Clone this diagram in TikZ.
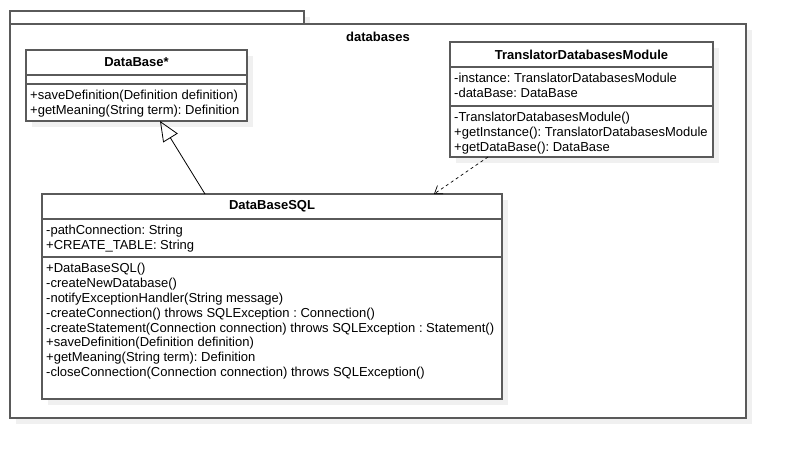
\documentclass[tikz,border=0pt]{standalone}
\usepackage{fontspec}
\setmainfont{Liberation Sans}
\usetikzlibrary{arrows.meta,shadows}
\frenchspacing
\definecolor{umlline}{HTML}{5A5A5A}
\definecolor{umlshade}{HTML}{F0F0F0}
\tikzset{
  umlbox/.style={rectangle, draw=umlline, line width=1.3pt, fill=white, anchor=north west,
    inner sep=0pt, outer sep=0pt,
    drop shadow={shadow xshift=6pt, shadow yshift=-6pt, fill=umlshade, opacity=1}},
  umltitle/.style={umlbox, minimum height=25pt, font=\fontsize{13}{14.85}\selectfont\bfseries},
  members/.style={anchor=north west, align=left, inner xsep=4pt, inner ysep=6pt,
    font=\fontsize{13}{14.85}\selectfont},
  inherit/.style={-{Triangle[open, length=20pt, width=17pt]}, line width=0.8pt},
  depend/.style={-{Straight Barb[length=7pt, width=10pt]}, line width=0.7pt, dash pattern=on 3pt off 3pt}
}
\begin{document}
\begin{tikzpicture}[x=1pt, y=-1pt]
  \useasboundingbox (0,0) rectangle (786,458);
  % package
  \node[umlbox, minimum width=294pt, minimum height=13pt] (pkgtab) at (10,11) {};
  \node[umlbox, minimum width=736pt, minimum height=394pt] (pkg) at (10,24) {};
  \node[font=\fontsize{13}{14.85}\selectfont\bfseries] (pkgname) at (378,37) {databases};
  % DataBase
  \node[umltitle, minimum width=221pt] (dbtitle) at (26,50) {DataBase*};
  \node[umlbox, minimum width=221pt, minimum height=9pt] (dbattr) at (dbtitle.south west) {};
  \node[umlbox, minimum width=221pt, minimum height=37pt] (dbops) at (dbattr.south west) {};
  \node[members] (dbopstext) at (dbops.north west) {+saveDefinition(Definition definition)\\
    +getMeaning(String term): Definition};
  % TranslatorDatabasesModule
  \node[umltitle, minimum width=263pt] (tdmtitle) at (450,42) {TranslatorDatabasesModule};
  \node[umlbox, minimum width=263pt, minimum height=39pt] (tdmattr) at (tdmtitle.south west) {};
  \node[members] (tdmattrtext) at (tdmattr.north west) {-instance: TranslatorDatabasesModule\\
    -dataBase: DataBase};
  \node[umlbox, minimum width=263pt, minimum height=51pt] (tdmops) at (tdmattr.south west) {};
  \node[members] (tdmopstext) at (tdmops.north west) {-TranslatorDatabasesModule()\\
    +getInstance(): TranslatorDatabasesModule\\
    +getDataBase(): DataBase};
  % DataBaseSQL
  \node[umltitle, minimum width=460pt] (sqltitle) at (42,194) {DataBaseSQL};
  \node[umlbox, minimum width=460pt, minimum height=38pt] (sqlattr) at (sqltitle.south west) {};
  \node[members] (sqlattrtext) at (sqlattr.north west) {-pathConnection: String\\
    +CREATE\_TABLE: String};
  \node[umlbox, minimum width=460pt, minimum height=142pt] (sqlops) at (sqlattr.south west) {};
  \node[members] (sqlopstext) at (sqlops.north west) {+DataBaseSQL()\\
    -createNewDatabase()\\
    -notifyExceptionHandler(String message)\\
    -createConnection() throws SQLException : Connection()\\
    -createStatement(Connection connection) throws SQLException : Statement()\\
    +saveDefinition(Definition definition)\\
    +getMeaning(String term): Definition\\
    -closeConnection(Connection connection) throws SQLException()};
  % relations
  \draw[inherit] ([xshift=163pt]sqltitle.north west) -- ([xshift=134pt]dbops.south west);
  \draw[depend] ([xshift=38pt]tdmops.south west) -- ([xshift=392pt]sqltitle.north west);
\end{tikzpicture}
\end{document}
